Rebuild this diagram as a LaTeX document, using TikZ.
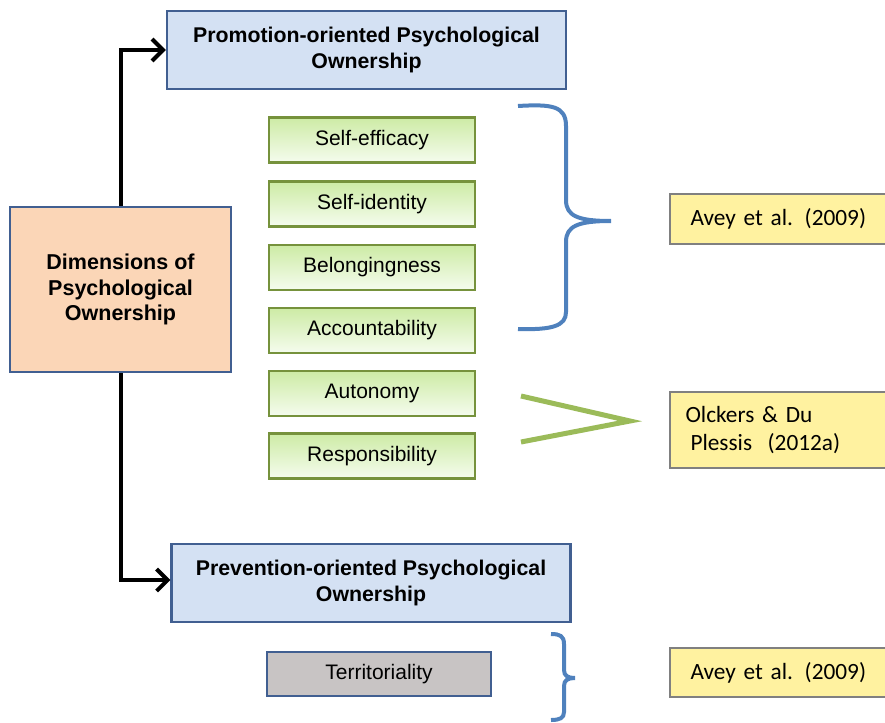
\documentclass[tikz,border=0pt]{standalone}
\usepackage{fontspec}
\setmainfont{Liberation Sans}
\newfontfamily\calib{Carlito}
\usetikzlibrary{arrows.meta}
\definecolor{bluefill}{RGB}{212,225,243}
\definecolor{blueline}{RGB}{65,95,145}
\definecolor{orfill}{RGB}{251,214,183}
\definecolor{grline}{RGB}{118,146,60}
\definecolor{grtop}{RGB}{205,235,165}
\definecolor{grbot}{RGB}{245,252,238}
\definecolor{yelfill}{RGB}{255,242,160}
\definecolor{yelline}{RGB}{128,128,128}
\definecolor{grayfill}{RGB}{200,196,196}
\definecolor{bracecol}{RGB}{79,129,189}
\definecolor{chevcol}{RGB}{155,187,89}
\tikzset{
  box/.style={draw, rectangle, inner sep=0pt, align=center, line width=2.2pt},
  orient/.style={box, fill=bluefill, draw=blueline, minimum width=399pt, minimum height=78pt, font=\fontsize{21.3}{26}\selectfont\bfseries},
  dimbox/.style={box, fill=orfill, draw=blueline, minimum width=221pt, minimum height=165pt, font=\fontsize{21.5}{25.5}\selectfont\bfseries},
  greenbox/.style={box, draw=grline, top color=grtop, bottom color=grbot, minimum width=206pt, minimum height=45pt, line width=2.6pt, font=\fontsize{21}{24}\selectfont},
  refbox/.style={box, fill=yelfill, draw=yelline, minimum width=240pt, line width=2pt, font=\fontsize{23.3}{28}\selectfont\calib, text width=225pt, anchor=west, align=left},
  terbox/.style={box, fill=grayfill, draw=blueline, minimum width=224pt, minimum height=44pt, line width=2pt, font=\fontsize{21}{24}\selectfont},
  conn/.style={line width=4pt, -{Straight Barb[length=11pt,width=22pt,line width=4pt]}},
}
\begin{document}
\begin{tikzpicture}[x=1pt,y=-1pt]
\useasboundingbox (0,0) rectangle (885,722);
\node[orient] (promo) at (366.5,50) {Promotion-oriented Psychological\\Ownership};
\node[orient] (prev) at (371,583) {Prevention-oriented Psychological\\Ownership};
\node[dimbox] (dim) at (120.5,289.5) {Dimensions of\\Psychological\\Ownership};
\node[greenbox] (se) at (372,140) {Self-efficacy};
\node[greenbox] (si) at (372,204) {Self-identity};
\node[greenbox] (be) at (372,267.5) {Belongingness};
\node[greenbox] (ac) at (372,330.5) {Accountability};
\node[greenbox] (au) at (372,393.5) {Autonomy};
\node[greenbox] (re) at (372,456) {Responsibility};
\node[terbox] (te) at (379,674) {Territoriality};
\node[refbox, minimum height=50pt] (av1) at (669,219) {\hspace*{13pt}Avey et al. (2009)};
\node[refbox, minimum height=76pt] (ol) at (669,430) {\hspace*{8pt}Olckers \& Du\\\hspace*{13pt}Plessis\ \ (2012a)};
\node[refbox, minimum height=49pt] (av2) at (669,672.5) {\hspace*{13pt}Avey et al. (2009)};
\coordinate (c1) at (121,50);
\coordinate (c2) at (121,580);
\draw[conn] (dim.north -| c1) -- (c1) -- (promo.west);
\draw[conn] (dim.south -| c2) -- (c2) -- (prev.west |- c2);
% blue brace
\draw[bracecol, line width=4pt] (518,106) .. controls (552,104) and (566,106) .. (566,126) -- (566,200) .. controls (566,216) and (578,221) .. (611,221) .. controls (578,221) and (566,226) .. (566,242) -- (566,312) .. controls (566,326) and (552,330) .. (518,329);
% green chevron
\draw[chevcol, line width=5pt] (521,396) -- (630,421) -- (521,442);
% small blue bracket
\draw[bracecol, line width=4pt] (551,634) .. controls (560,634) and (564,636) .. (564,644) -- (564,670) .. controls (564,676) and (568,678) .. (575,678) .. controls (568,678) and (564,680) .. (564,686) -- (564,712) .. controls (564,718) and (560,720) .. (551,720);
\end{tikzpicture}
\end{document}
